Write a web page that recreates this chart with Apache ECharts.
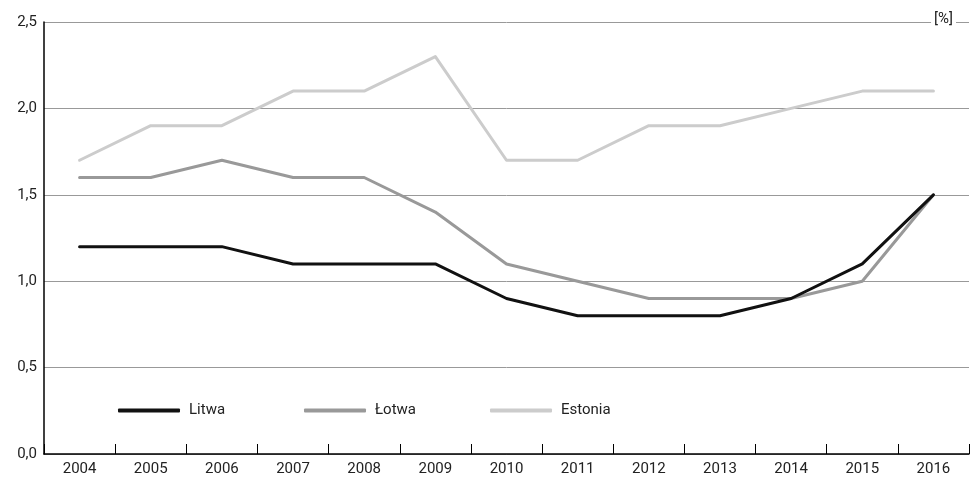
<!DOCTYPE html>
<html><head><meta charset="utf-8">
<script src="https://cdn.jsdelivr.net/npm/echarts@6/dist/echarts.min.js"></script>
<style>html,body{margin:0;padding:0;background:#fff}#c{width:972px;height:481px}</style>
</head><body><div id="c"></div>
<script>
const years = ['2004','2005','2006','2007','2008','2009','2010','2011','2012','2013','2014','2015','2016'];
const litwa = [1.2,1.2,1.2,1.1,1.1,1.1,0.9,0.8,0.8,0.8,0.9,1.1,1.5];
const lotwa = [1.6,1.6,1.7,1.6,1.6,1.4,1.1,1.0,0.9,0.9,0.9,1.0,1.5];
const estonia = [1.7,1.9,1.9,2.1,2.1,2.3,1.7,1.7,1.9,1.9,2.0,2.1,2.1];
const names = ['Litwa','Łotwa','Estonia'];
const colors = ['#111111','#999999','#cccccc'];
const font = 'Roboto, "Liberation Sans", sans-serif';
const chart = echarts.init(document.getElementById('c'));
const mkLegend = (i, left) => ({
  data: [names[i]], left: left, top: 398, itemWidth: 62, itemHeight: 4, itemGap: 0,
  icon: 'roundRect',
  textStyle: {fontFamily: font, fontSize: 15, color: '#222', padding: [0,0,0,4]},
  selectedMode: false
});
const mkSeries = (i, data) => ({
  name: names[i], type: 'line', data: data, showSymbol: false, symbol: 'none',
  lineStyle: {color: colors[i], width: 3, cap: 'round', join: 'round'},
  itemStyle: {color: colors[i]}, animation: false
});
chart.setOption({
  animation: false,
  grid: {left: 44, right: 3, top: 22, bottom: 27},
  legend: [mkLegend(0, 113), mkLegend(1, 299), mkLegend(2, 485)],
  xAxis: {
    type: 'category', data: years, boundaryGap: true,
    axisLine: {lineStyle: {color: '#000', width: 1.5}},
    axisTick: {show: true, inside: true, length: 10, lineStyle: {color: '#000'}},
    axisLabel: {fontFamily: font, fontSize: 15, color: '#222', margin: 8}
  },
  yAxis: {
    type: 'value', min: 0, max: 2.5, interval: 0.5,
    axisLine: {show: true, lineStyle: {color: '#000', width: 1.5}},
    axisTick: {show: false},
    splitLine: {lineStyle: {color: '#999', width: 1}},
    axisLabel: {fontFamily: font, fontSize: 15, color: '#222', margin: 7,
      formatter: v => v.toFixed(1).replace('.', ',')}
  },
  graphic: [{
    type: 'text', right: 16, top: 12, z: 100,
    style: {text: '[%]', fontSize: 15, fontFamily: font, fill: '#222', backgroundColor: '#fff', padding: [0, 3]}
  }],
  series: [mkSeries(2, estonia), mkSeries(1, lotwa), mkSeries(0, litwa)]
});
</script></body></html>
